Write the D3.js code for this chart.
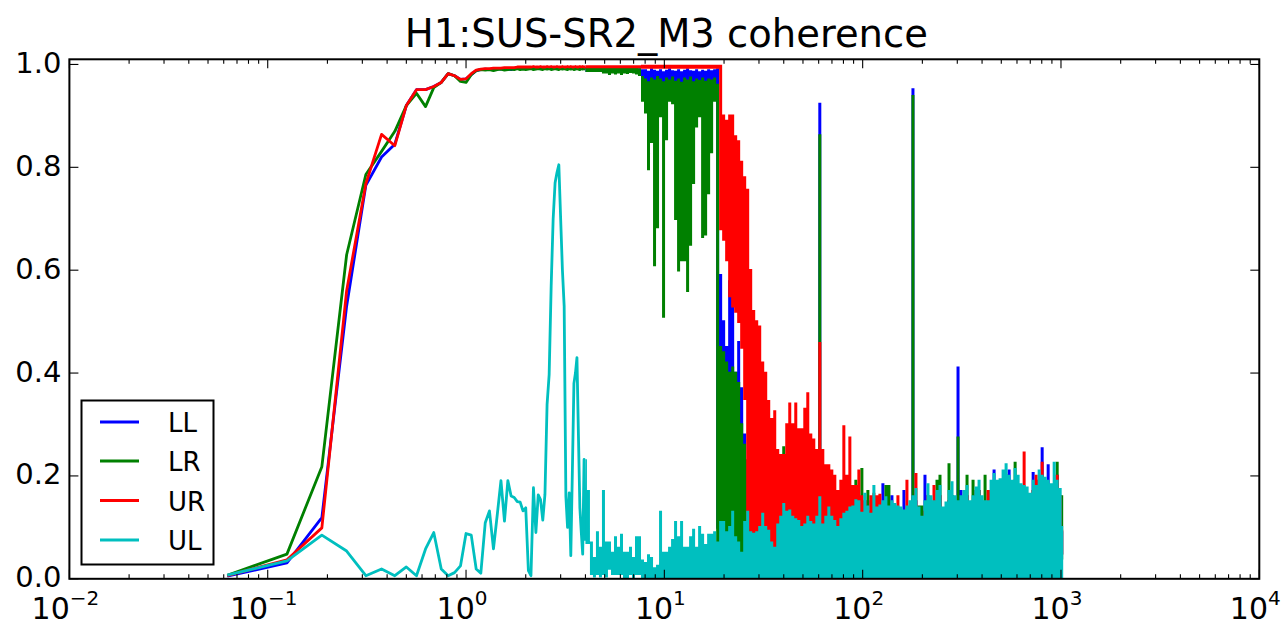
<!DOCTYPE html>
<html><head><meta charset="utf-8">
<script src="https://cdn.jsdelivr.net/npm/d3@7"></script>
<style>
body{margin:0;background:#fff}
svg text{font-family:"DejaVu Sans",sans-serif;fill:#000}
</style>
</head><body>
<svg id="chart" width="1286" height="626"></svg>
<script>
// ---------------- DATA ----------------
const chartTitle = "H1:SUS-SR2_M3 coherence";
const seriesNames = ["LL", "LR", "UR", "UL"];
const seriesColors = ["#0000ff", "#008000", "#ff0000", "#00bfbf"];
const yTickValues = [0.0, 0.2, 0.4, 0.6, 0.8, 1.0];
const yTickLabels = ["0.0", "0.2", "0.4", "0.6", "0.8", "1.0"];
const xDecadeExponents = [-2, -1, 0, 1, 2, 3, 4];
const xDecadeLabels = ["\u22122", "\u22121", "0", "1", "2", "3", "4"];
const minorMultipliers = [2, 3, 4, 5, 6, 7, 8, 9];

// low-frequency part: FFT bins 1..64 (bin width 0.0625 Hz), one value per bin
const binWidthHz = 0.0625;
const sparseBins = d3.range(1, 65);
const LL_sparse = [.005,.031,.119,.53,.765,.82,.845,.92,.951,.951,.957,.965,.982,.978,.971,.972,
  .98,.988,.99,.991,.99,.991,.992,.991,.992,.991,.99,.992,.993,.992,.993,.992,
  .993,.993,.992,.993,.994,.993,.993,.994,.993,.993,.994,.993,.994,.993,.993,.994,
  .993,.994,.993,.994,.993,.993,.994,.993,.994,.993,.993,.994,.993,.994,.993,.993];
const LR_sparse = [.007,.048,.218,.63,.786,.831,.87,.92,.944,.918,.955,.965,.982,.978,.967,.965,
  .98,.988,.99,.989,.99,.988,.99,.991,.989,.99,.991,.99,.992,.99,.991,.99,
  .991,.992,.99,.991,.992,.991,.99,.992,.991,.992,.99,.991,.992,.991,.99,.992,
  .991,.992,.991,.99,.992,.991,.992,.99,.991,.992,.991,.99,.992,.991,.992,.991];
const UR_sparse = [.006,.037,.099,.56,.768,.864,.842,.92,.951,.951,.957,.965,.982,.978,.971,.972,
  .982,.989,.991,.992,.992,.993,.993,.993,.994,.994,.994,.994,.995,.995,.995,.995,
  .995,.995,.996,.995,.995,.996,.995,.995,.996,.995,.996,.995,.995,.996,.995,.995,
  .996,.995,.995,.996,.995,.996,.995,.995,.996,.995,.995,.996,.995,.996,.995,.995];
const UL_sparse = [.007,.035,.085,.054,.006,.019,.006,.023,.006,.058,.09,.019,.006,.012,.025,.088,
  .085,.019,.011,.109,.132,.058,.125,.191,.112,.191,.161,.158,.15,.149,.132,.138,
  .016,.006,.177,.09,.163,.154,.114,.164,.339,.397,.57,.70,.77,.79,.805,.70,
  .60,.53,.16,.10,.167,.045,.21,.38,.40,.43,.28,.138,.09,.048,.232,.074];

// high-frequency part (4 Hz .. 1024 Hz): per-column max (hi) and min (lo) of the
// dense coherence trace, 66 columns per decade
const denseStartHz = 4, denseColsPerDecade = 66, denseCount = 160;
const denseFreq = d3.range(denseCount).map(i => denseStartHz * Math.pow(10, i / denseColsPerDecade));

const LL_hi = [
 .99,.99,.99,.99,.99,.99,.99,.99,.99,.99,
 .99,.99,.99,.99,.99,.99,.99,.99,.99,.988,
 .988,.985,.99,.987,.985,.988,.984,.987,.99,.986,
 .985,.988,.984,.987,.99,.986,.985,.988,.984,.987,
 .985,.988,.986,.988,.99,.59,.50,.45,.578,.56,
 .40,.46,.37,.28,.22,.15,.15,.12,.12,.12,
 .12,.12,.12,.12,.12,.12,.12,.12,.12,.12,
 .12,.12,.12,.12,.12,.12,.12,.12,.923,.12,
 .12,.12,.12,.12,.12,.12,.12,.12,.12,.15,
 .15,.15,.14,.14,.15,.13,.14,.13,.13,.183,
 .14,.13,.16,.13,.13,.12,.17,.13,.13,.951,
 .15,.12,.11,.20,.16,.14,.13,.15,.16,.12,
 .13,.15,.16,.14,.41,.17,.15,.16,.13,.14,
 .17,.17,.14,.13,.14,.17,.21,.17,.17,.18,
 .20,.21,.17,.19,.18,.16,.16,.16,.15,.205,
 .18,.19,.253,.17,.22,.16,.18,.20,.16,.09];
const LL_lo = [
 .988,.988,.988,.988,.988,.988,.988,.988,.988,.988,
 .988,.988,.988,.988,.988,.988,.988,.988,.988,.95,
 .95,.95,.95,.95,.95,.95,.95,.95,.95,.95,
 .95,.95,.95,.95,.95,.95,.95,.95,.95,.95,
 .95,.95,.95,.95,.10,.10,.10,.10,.10,.10,
 .10,.10,.10,.10,.10,.05,.05,.05,.05,.05,
 .05,.05,.05,.05,.05,.05,.05,.05,.05,.05,
 .05,.05,.05,.05,.05,.05,.05,.05,.05,.05,
 .05,.05,.05,.05,.05,.05,.05,.05,.05,.05,
 .05,.05,.05,.05,.05,.05,.05,.05,.05,.05,
 .05,.05,.05,.05,.05,.05,.05,.05,.05,.05,
 .05,.05,.05,.05,.05,.05,.05,.05,.05,.05,
 .05,.05,.05,.05,.05,.05,.05,.05,.05,.05,
 .05,.05,.05,.05,.05,.05,.05,.05,.05,.05,
 .05,.05,.05,.05,.05,.05,.05,.05,.05,.05,
 .05,.05,.05,.05,.05,.05,.05,.05,.05,.05];
const LR_hi = [
 .992,.992,.992,.992,.992,.992,.992,.992,.992,.992,
 .992,.992,.992,.992,.992,.992,.992,.992,.99,.975,
 .97,.965,.972,.968,.975,.97,.965,.972,.968,.974,
 .966,.97,.964,.972,.968,.974,.965,.97,.967,.972,
 .966,.97,.968,.972,.96,.45,.44,.42,.40,.41,
 .40,.38,.30,.26,.23,.20,.18,.16,.15,.15,
 .14,.14,.13,.13,.14,.15,.255,.15,.14,.13,
 .13,.13,.13,.13,.13,.13,.13,.13,.862,.13,
 .13,.13,.13,.13,.13,.13,.13,.13,.13,.18,
 .19,.14,.213,.14,.17,.13,.14,.13,.13,.14,
 .18,.18,.13,.13,.13,.12,.12,.13,.13,.938,
 .13,.14,.14,.13,.15,.14,.14,.19,.20,.12,
 .13,.222,.16,.14,.274,.14,.15,.20,.13,.19,
 .16,.17,.14,.20,.14,.17,.18,.17,.17,.18,
 .20,.18,.17,.225,.18,.16,.16,.16,.15,.17,
 .18,.19,.20,.17,.17,.16,.18,.225,.16,.16];
const LR_lo = [
 .988,.988,.988,.988,.988,.988,.985,.985,.982,.985,
 .983,.985,.982,.985,.984,.986,.985,.983,.98,.93,
 .907,.797,.85,.61,.684,.90,.51,.855,.93,.925,
 .70,.60,.62,.62,.56,.65,.77,.88,.90,.665,
 .67,.75,.83,.93,.04,.04,.04,.04,.04,.04,
 .04,.04,.04,.04,.04,.04,.04,.04,.04,.04,
 .04,.04,.04,.04,.04,.04,.04,.04,.04,.04,
 .04,.04,.04,.04,.04,.04,.04,.04,.04,.04,
 .04,.04,.04,.04,.04,.04,.04,.04,.04,.04,
 .04,.04,.04,.04,.04,.04,.04,.04,.04,.04,
 .04,.04,.04,.04,.04,.04,.04,.04,.04,.04,
 .04,.04,.04,.04,.04,.04,.04,.04,.04,.04,
 .04,.04,.04,.04,.04,.04,.04,.04,.04,.04,
 .04,.04,.04,.04,.04,.04,.04,.04,.04,.04,
 .04,.04,.04,.04,.04,.04,.04,.04,.04,.04,
 .04,.04,.04,.04,.04,.04,.04,.04,.04,.04];
const UR_hi = [
 .996,.996,.996,.996,.996,.996,.996,.996,.996,.996,
 .996,.996,.996,.996,.996,.996,.996,.996,.996,.997,
 .997,.997,.997,.997,.997,.997,.997,.997,.997,.997,
 .997,.997,.997,.997,.997,.997,.997,.997,.997,.997,
 .997,.997,.997,.997,.997,.997,.90,.89,.90,.90,
 .86,.85,.81,.78,.756,.60,.52,.50,.49,.42,
 .40,.345,.31,.325,.25,.24,.24,.30,.34,.30,
 .34,.29,.29,.33,.36,.28,.27,.25,.458,.25,
 .22,.22,.21,.20,.17,.19,.296,.20,.274,.18,
 .18,.21,.16,.15,.13,.16,.165,.16,.163,.14,
 .13,.12,.13,.12,.16,.12,.12,.19,.13,.14,
 .203,.12,.10,.13,.16,.14,.18,.15,.16,.12,
 .13,.15,.16,.14,.13,.14,.15,.16,.13,.14,
 .16,.17,.14,.13,.17,.17,.18,.17,.17,.18,
 .20,.18,.17,.19,.18,.17,.245,.16,.15,.17,
 .20,.19,.225,.17,.17,.16,.18,.20,.16,.093];
const UR_lo = [
 .995,.995,.995,.995,.995,.995,.995,.995,.995,.995,
 .995,.995,.995,.995,.995,.995,.995,.995,.995,.994,
 .994,.994,.994,.994,.994,.994,.994,.994,.994,.994,
 .994,.994,.994,.994,.994,.994,.994,.994,.994,.994,
 .994,.994,.994,.994,.994,.68,.66,.62,.55,.53,
 .52,.50,.45,.35,.10,.06,.06,.06,.06,.06,
 .05,.05,.05,.05,.05,.05,.05,.05,.05,.05,
 .05,.05,.05,.05,.05,.05,.05,.05,.05,.05,
 .05,.05,.05,.05,.05,.05,.05,.05,.05,.05,
 .05,.05,.05,.05,.05,.05,.05,.05,.05,.05,
 .05,.05,.05,.05,.05,.05,.05,.05,.05,.05,
 .05,.05,.05,.05,.05,.05,.05,.05,.05,.05,
 .05,.05,.05,.05,.05,.05,.05,.05,.05,.05,
 .05,.05,.05,.05,.05,.05,.05,.05,.05,.05,
 .05,.05,.05,.05,.05,.05,.05,.05,.05,.05,
 .05,.05,.05,.05,.05,.05,.05,.05,.05,.05];
const UL_hi = [
 .23,.17,.07,.04,.09,.06,.17,.07,.07,.05,
 .08,.06,.085,.05,.05,.06,.04,.08,.08,.035,
 .03,.045,.04,.02,.025,.13,.05,.05,.06,.075,
 .11,.08,.11,.06,.06,.08,.095,.06,.10,.085,
 .065,.085,.085,.09,.07,.11,.11,.09,.10,.13,
 .08,.07,.05,.11,.13,.09,.087,.09,.10,.126,
 .10,.093,.07,.06,.105,.12,.145,.13,.132,.12,
 .115,.112,.10,.105,.12,.11,.105,.12,.158,.105,
 .12,.138,.12,.112,.10,.115,.126,.13,.138,.14,
 .152,.15,.128,.165,.14,.126,.18,.138,.142,.15,
 .158,.14,.15,.145,.14,.138,.132,.14,.15,.16,
 .174,.138,.12,.15,.183,.16,.15,.17,.18,.138,
 .148,.17,.187,.16,.15,.16,.17,.18,.15,.16,
 .177,.19,.16,.15,.15,.19,.203,.19,.193,.21,
 .222,.20,.19,.213,.20,.183,.18,.177,.165,.19,
 .18,.21,.20,.196,.19,.183,.225,.19,.174,.10];
const UL_lo = [
 .07,.07,.01,.005,.01,.005,.01,.005,.02,.01,
 .01,.01,.01,0,0,.01,0,.01,.01,0,
 0,0,0,0,0,0,0,0,0,0,
 0,0,0,0,0,0,0,0,0,0,
 0,0,0,0,0,0,0,0,0,0,
 0,0,0,0,0,0,0,0,0,0,
 0,0,0,0,0,0,0,0,0,0,
 0,0,0,0,0,0,0,0,0,0,
 0,0,0,0,0,0,0,0,0,0,
 0,0,0,0,0,0,0,0,0,0,
 0,0,0,0,0,0,0,0,0,0,
 0,0,0,0,0,0,0,0,0,0,
 0,0,0,0,0,0,0,0,0,0,
 0,0,0,0,0,0,0,0,0,0,
 0,0,0,0,0,0,0,0,0,0,
 0,0,0,0,0,0,0,0,0,0];

const series = [
  {name: seriesNames[0], color: seriesColors[0], sparse: LL_sparse, hi: LL_hi, lo: LL_lo},
  {name: seriesNames[1], color: seriesColors[1], sparse: LR_sparse, hi: LR_hi, lo: LR_lo},
  {name: seriesNames[2], color: seriesColors[2], sparse: UR_sparse, hi: UR_hi, lo: UR_lo},
  {name: seriesNames[3], color: seriesColors[3], sparse: UL_sparse, hi: UL_hi, lo: UL_lo}
];

// ---------------- LAYOUT ----------------
const plot = {left: 69.4, right: 1259.3, top: 59.3, bottom: 578.8};
const x = d3.scaleLog().domain([1e-2, 1e4]).range([plot.left, plot.right]);
const y = d3.scaleLinear().domain([0, 1.01]).range([plot.bottom, plot.top]);
const LW = 2.8, PAD = 1.3;

const svg = d3.select("#chart");
svg.append("rect").attr("width", 1286).attr("height", 626).attr("fill", "#fff");
svg.append("defs").append("clipPath").attr("id", "plotClip").append("rect")
  .attr("x", plot.left).attr("y", plot.top)
  .attr("width", plot.right - plot.left).attr("height", plot.bottom - plot.top);

const gData = svg.append("g").attr("clip-path", "url(#plotClip)");
const line = d3.line().x(d => x(d.f)).y(d => y(d.v));
const band = d3.area().x(d => x(d.f))
  .y0(d => y(d.lo) + PAD).y1(d => y(d.hi) - PAD).curve(d3.curveStep);

series.forEach(s => {
  const sp = sparseBins.map((k, i) => ({f: k * binWidthHz, v: s.sparse[i]}));
  gData.append("path").attr("d", line(sp)).attr("fill", "none")
    .attr("stroke", s.color).attr("stroke-width", LW)
    .attr("stroke-linejoin", "round");
  const dn = denseFreq.map((f, i) => ({f: f, hi: s.hi[i], lo: s.lo[i]}));
  gData.append("path").attr("d", band(dn)).attr("fill", s.color).attr("stroke", "none");
});

// ---------------- AXES ----------------
const gAx = svg.append("g").attr("stroke", "#000").attr("stroke-width", 1.1);
const majorLen = 9, minorLen = 4.5;
xDecadeExponents.forEach(e => {
  const px = x(Math.pow(10, e));
  gAx.append("line").attr("x1", px).attr("x2", px).attr("y1", plot.bottom).attr("y2", plot.bottom - majorLen);
  gAx.append("line").attr("x1", px).attr("x2", px).attr("y1", plot.top).attr("y2", plot.top + majorLen);
  if (e < 4) {
    minorMultipliers.forEach(m => {
      const mx = x(m * Math.pow(10, e));
      gAx.append("line").attr("x1", mx).attr("x2", mx).attr("y1", plot.bottom).attr("y2", plot.bottom - minorLen);
      gAx.append("line").attr("x1", mx).attr("x2", mx).attr("y1", plot.top).attr("y2", plot.top + minorLen);
    });
  }
});
yTickValues.forEach(v => {
  const py = y(v);
  gAx.append("line").attr("x1", plot.left).attr("x2", plot.left + majorLen).attr("y1", py).attr("y2", py);
  gAx.append("line").attr("x1", plot.right).attr("x2", plot.right - majorLen).attr("y1", py).attr("y2", py);
});
svg.append("rect").attr("x", plot.left).attr("y", plot.top)
  .attr("width", plot.right - plot.left).attr("height", plot.bottom - plot.top)
  .attr("fill", "none").attr("stroke", "#000").attr("stroke-width", 2);

// tick labels
yTickValues.forEach((v, i) => {
  svg.append("text").attr("x", plot.left - 8).attr("y", y(v) + 8.5)
    .attr("text-anchor", "end").style("font-size", "29px").text(yTickLabels[i]);
});
xDecadeExponents.forEach((e, i) => {
  const t = svg.append("text").attr("x", x(Math.pow(10, e)) - 4).attr("y", 619)
    .attr("text-anchor", "middle").style("font-size", "30px");
  t.append("tspan").text("10");
  t.append("tspan").attr("dy", -14).style("font-size", "20px").text(xDecadeLabels[i]);
});

// title
svg.append("text").attr("x", (plot.left + plot.right) / 2 + 2).attr("y", 47)
  .attr("text-anchor", "middle").style("font-size", "38.5px").text(chartTitle);

// legend
const lg = svg.append("g");
lg.append("rect").attr("x", 81.5).attr("y", 400.5).attr("width", 132).attr("height", 164)
  .attr("fill", "#fff").attr("stroke", "#000").attr("stroke-width", 2);
const legendRowY = [422, 461, 500.5, 540];
series.forEach((s, i) => {
  lg.append("line").attr("x1", 100).attr("x2", 139).attr("y1", legendRowY[i]).attr("y2", legendRowY[i])
    .attr("stroke", s.color).attr("stroke-width", 3);
  lg.append("text").attr("x", 168).attr("y", legendRowY[i] + 10)
    .style("font-size", "26px").text(s.name);
});
</script>
</body></html>
